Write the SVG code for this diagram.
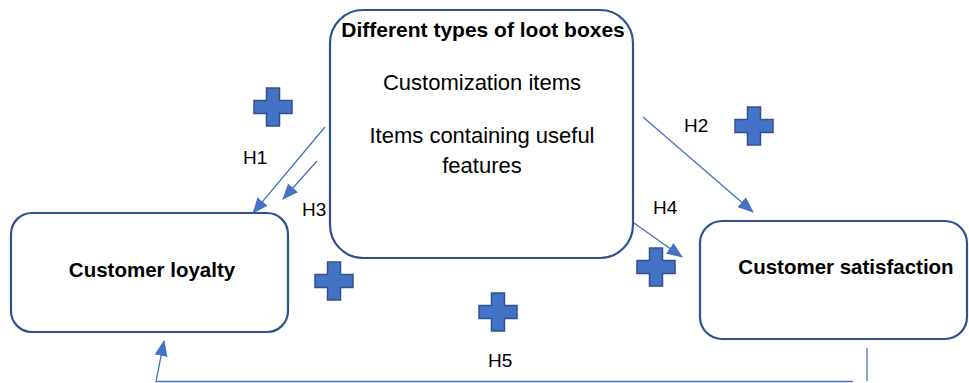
<svg xmlns="http://www.w3.org/2000/svg" width="969" height="383" viewBox="0 0 969 383">
<style>
.box{fill:#fff;stroke:#2F528F;stroke-width:2.2}
.t{font-family:"Liberation Sans",Arial,sans-serif;fill:#000;text-anchor:middle}
.b{font-weight:bold;font-size:20.5px}
.r{font-size:22px}
.h{font-family:"Liberation Sans",Arial,sans-serif;font-size:19px;fill:#000}
.conn{fill:none;stroke:#4472C4;stroke-width:1.3}
.plus{fill:#4472C4;stroke:#2F528F;stroke-width:1.5}
</style>
<defs>
<marker id="arr" markerUnits="userSpaceOnUse" viewBox="0 0 16 13" refX="15" refY="6.5" markerWidth="16" markerHeight="13" orient="auto">
<path d="M0,0 L16,6.5 L0,13 z" fill="#4472C4"/>
</marker>
<path id="plusShape" d="M-6.5,-19 h13 v12.5 h12.5 v13 h-12.5 v12.5 h-13 v-12.5 h-12.5 v-13 h12.5 z"/>
</defs>
<rect width="969" height="383" fill="#fff"/>
<g id="connectors">
<line class="conn" x1="325" y1="127" x2="253" y2="213" marker-end="url(#arr)"/>
<line class="conn" x1="317" y1="161" x2="283" y2="199" marker-end="url(#arr)"/>
<line class="conn" x1="643" y1="117" x2="753" y2="212" marker-end="url(#arr)"/>
<line class="conn" x1="634" y1="223" x2="682" y2="257" marker-end="url(#arr)"/>
<line class="conn" x1="867" y1="348" x2="867" y2="381"/>
<polyline class="conn" points="853,381.5 156,381.5 164,341" marker-end="url(#arr)"/>
</g>
<g id="loot-boxes">
<rect class="box" x="330" y="10" width="303" height="248" rx="33"/>
<text class="t b" x="483" y="37" font-size="21px" style="font-size:21px">Different types of loot boxes</text>
<text class="t r" x="482" y="90">Customization items</text>
<text class="t r" x="482" y="143">Items containing useful</text>
<text class="t r" x="482" y="173">features</text>
</g>
<g id="customer-loyalty">
<rect class="box" x="11" y="213" width="277" height="119" rx="21"/>
<text class="t b" x="152" y="277">Customer loyalty</text>
</g>
<g id="customer-satisfaction">
<rect class="box" x="700" y="221" width="267" height="118" rx="22"/>
<text class="t b" x="846" y="274">Customer satisfaction</text>
</g>
<g id="labels">
<text class="h" x="243" y="164">H1</text>
<text class="h" x="684" y="132">H2</text>
<text class="h" x="302" y="216">H3</text>
<text class="h" x="653" y="214">H4</text>
<text class="h" x="488" y="367">H5</text>
</g>
<g id="plus-signs">
<use href="#plusShape" class="plus" x="273" y="107"/>
<use href="#plusShape" class="plus" x="754" y="126"/>
<use href="#plusShape" class="plus" x="656" y="267"/>
<use href="#plusShape" class="plus" x="334" y="281"/>
<use href="#plusShape" class="plus" x="498" y="312"/>
</g>
</svg>
